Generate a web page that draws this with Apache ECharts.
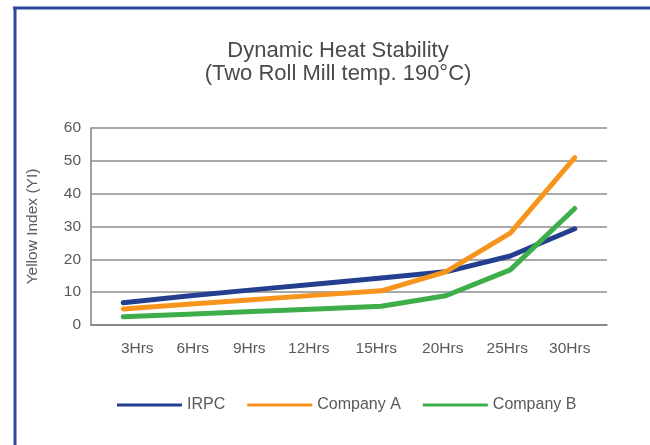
<!DOCTYPE html>
<html>
<head>
<meta charset="utf-8">
<script src="https://cdn.jsdelivr.net/npm/echarts@6/dist/echarts.min.js"></script>
<style>
html,body{margin:0;padding:0;background:#fff;}
#chart{width:650px;height:445px;}
</style>
</head>
<body>
<div id="chart"></div>
<script>
// ---- data ----
var categories = ['3Hrs', '6Hrs', '9Hrs', '12Hrs', '15Hrs', '20Hrs', '25Hrs', '30Hrs'];
var seriesNames = ['IRPC', 'Company A', 'Company B'];
var irpc = [6.8, 8.8, 10.7, 12.5, 14.3, 16.2, 21.0, 29.3];
var companyA = [4.9, 6.3, 7.7, 9.1, 10.4, 16.2, 28.0, 51.0];
var companyB = [2.5, 3.3, 4.1, 4.9, 5.7, 8.9, 16.8, 35.5];
var yTicks = [0, 10, 20, 30, 40, 50, 60];

// ---- styles ----
var colors = ['#243f8f', '#f7941d', '#3dae49'];
var labelShift = [14, 5, -3, -8, -5, -3, -3, -5]; // horizontal label nudges (px)
var textColor = '#595959';
var fontFam = '"Liberation Sans", Arial, Helvetica, sans-serif';

var rich = {};
labelShift.forEach(function (s, i) {
  rich['s' + i] = {
    fontSize: 15.5, color: textColor, fontFamily: fontFam,
    padding: s >= 0 ? [0, 0, 0, 2 * s] : [0, -2 * s, 0, 0]
  };
});

var chart = echarts.init(document.getElementById('chart'), null, {renderer: 'canvas'});
var dataSets = [irpc, companyA, companyB];

chart.setOption({
  animation: false,
  backgroundColor: '#ffffff',
  title: {
    text: 'Dynamic Heat Stability\n(Two Roll Mill temp. 190\u00B0C)',
    left: 338,
    top: 39,
    padding: 0,
    textAlign: 'center',
    textStyle: {
      fontFamily: fontFam, fontSize: 22, fontWeight: 'normal',
      color: '#4a4a4a', lineHeight: 23
    }
  },
  legend: {
    data: seriesNames,
    left: 117,
    top: 397,
    padding: 0,
    icon: 'rect',
    itemWidth: 65,
    itemHeight: 3,
    itemGap: 22,
    textStyle: {fontFamily: fontFam, fontSize: 16, color: textColor}
  },
  grid: {left: 91, right: 43, top: 128, bottom: 120, containLabel: false},
  xAxis: {
    type: 'category',
    data: categories,
    boundaryGap: true,
    axisLine: {show: true, lineStyle: {color: '#808080', width: 1.5}},
    axisTick: {show: false},
    axisLabel: {
      margin: 16,
      interval: 0,
      formatter: function (v, i) { return '{s' + i + '|' + v + '}'; },
      rich: rich
    },
    splitLine: {show: false}
  },
  yAxis: {
    type: 'value',
    min: yTicks[0],
    max: yTicks[yTicks.length - 1],
    interval: 10,
    name: 'Yellow Index (YI)',
    nameLocation: 'middle',
    nameGap: 50,
    nameTextStyle: {fontFamily: fontFam, fontSize: 15.5, color: textColor},
    axisLine: {show: true, lineStyle: {color: '#808080', width: 1.5}},
    axisTick: {show: false},
    axisLabel: {margin: 10, fontFamily: fontFam, fontSize: 15.5, color: textColor},
    splitLine: {show: true, lineStyle: {color: '#8c8c8c', width: 1.5}}
  },
  series: seriesNames.map(function (n, i) {
    return {
      name: n,
      type: 'line',
      data: dataSets[i],
      symbol: 'none',
      showSymbol: false,
      color: colors[i],
      itemStyle: {color: colors[i]},
      lineStyle: {color: colors[i], width: 5, cap: 'round', join: 'round'},
      z: 2 + i
    };
  }),
  graphic: [
    {type: 'line', shape: {x1: 13, y1: 8, x2: 650, y2: 8}, style: {stroke: '#2d4b9e', lineWidth: 3}, z: 100},
    {type: 'line', shape: {x1: 15, y1: 7, x2: 15, y2: 445}, style: {stroke: '#2d4b9e', lineWidth: 3}, z: 100}
  ]
});
</script>
</body>
</html>
